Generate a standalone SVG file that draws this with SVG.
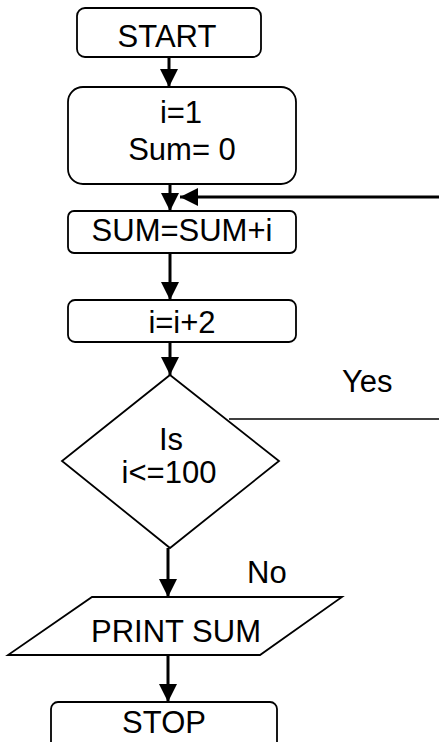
<svg xmlns="http://www.w3.org/2000/svg" width="439" height="742" viewBox="0 0 439 742">
<defs>
<style>
.shape{fill:#fff;stroke:#000;stroke-width:1.8}
.t{font-family:"Liberation Sans",Arial,sans-serif;font-size:31px;fill:#000;text-anchor:middle}
.tl{font-family:"Liberation Sans",Arial,sans-serif;font-size:31px;fill:#000}
.c{fill:none;stroke:#000;stroke-width:3}
.thin{fill:none;stroke:#000;stroke-width:1.6}
</style>
<marker id="ah" markerWidth="6" markerHeight="6" viewBox="0 0 6 6" refX="6" refY="3" orient="auto" markerUnits="strokeWidth">
<path d="M0,0 L6,3 L0,6 Z" fill="#000"/>
</marker>
</defs>
<rect width="439" height="742" fill="#fff"/>
<g id="connectors">
<line class="c" x1="169" y1="57" x2="169" y2="87" marker-end="url(#ah)"/>
<line class="c" x1="170" y1="184" x2="170" y2="211" marker-end="url(#ah)"/>
<line class="c" x1="439" y1="197" x2="180" y2="197" marker-end="url(#ah)"/>
<line class="c" x1="170" y1="253" x2="170" y2="300" marker-end="url(#ah)"/>
<line class="c" x1="170" y1="342" x2="170" y2="375" marker-end="url(#ah)"/>
<line class="thin" x1="229" y1="419" x2="439" y2="419"/>
<line class="c" x1="168" y1="548" x2="168" y2="597" marker-end="url(#ah)"/>
<line class="c" x1="168" y1="655" x2="168" y2="702" marker-end="url(#ah)"/>
<text class="tl" x="342" y="392">Yes</text>
<text class="tl" x="247" y="583">No</text>
</g>
<g id="start">
<rect class="shape" x="77" y="8" width="184" height="49" rx="8"/>
<text class="t" x="167" y="47">START</text>
</g>
<g id="init">
<rect class="shape" x="68" y="87" width="228" height="97" rx="15"/>
<text class="t" x="181" y="123">i=1</text>
<text class="t" x="182" y="160">Sum= 0</text>
</g>
<g id="sum">
<rect class="shape" x="68" y="211" width="228" height="42" rx="6"/>
<text class="t" x="182" y="241">SUM=SUM+i</text>
</g>
<g id="incr">
<rect class="shape" x="68" y="300" width="228" height="42" rx="7"/>
<text class="t" x="182" y="333">i=i+2</text>
</g>
<g id="decision">
<polygon class="shape" points="170,375 279,461 170,548 62,461"/>
<text class="t" x="171" y="450">Is</text>
<text class="t" x="169" y="483">i&lt;=100</text>
</g>
<g id="print">
<polygon class="shape" points="92,597 342,597 260,655 8,655"/>
<text class="t" x="176" y="642">PRINT SUM</text>
</g>
<g id="stop">
<rect class="shape" x="51" y="702" width="226" height="50" rx="7"/>
<text class="t" x="164" y="733">STOP</text>
</g>
</svg>
